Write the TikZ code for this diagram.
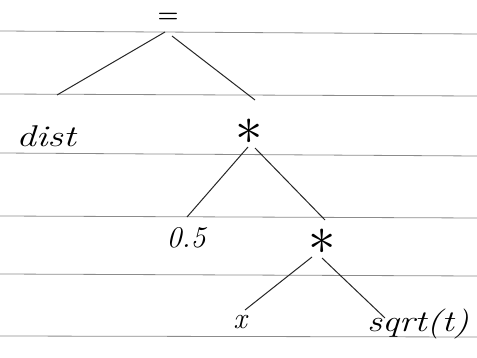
\documentclass[tikz,border=0pt]{standalone}
\begin{document}
\begin{tikzpicture}[x=1pt,y=-1pt,
  lbl/.style={inner sep=1pt,font=\fontsize{30}{34}\selectfont\itshape},
  op/.style={inner sep=0pt,scale=2.2,font=\fontsize{24}{24}\selectfont},
  edge/.style={line width=1pt,black!85},
  rule/.style={line width=0.8pt,black!45}]
\useasboundingbox (0,0) rectangle (477,358);
\fill[white] (0,0) rectangle (477,358);
% ruled paper lines
\draw[rule] (0,31) -- (477,34);
\draw[rule] (0,94) -- (477,96);
\draw[rule] (0,153) -- (477,156);
\draw[rule] (0,216) -- (477,218);
\draw[rule] (0,274) -- (477,276);
\draw[rule] (0,336) -- (477,337);
% nodes
\node[inner sep=0pt,font=\fontsize{24}{24}\selectfont\bfseries] (eq) at (168,18) {=};
\node[lbl,xscale=1.3] (dist) at (46,136) {dist};
\node[op] (m1) at (249,132) {$*$};
\node[lbl] (half) at (186,238) {0.5};
\node[op] (m2) at (322,242) {$*$};
\node[lbl] (x) at (240,322) {x};
\node[lbl,xscale=1.25] (sq) at (418,324) {sqrt(t)};
% connector ends
\coordinate (eqL) at (165,32);
\coordinate (eqR) at (172,36);
\coordinate (distT) at (57,95);
\coordinate (m1T) at (255,100);
\coordinate (m1L) at (248,147);
\coordinate (m1R) at (255,148);
\coordinate (halfT) at (187,217);
\coordinate (m2T) at (325,220);
\coordinate (m2L) at (312,257);
\coordinate (m2R) at (322,258);
\coordinate (xT) at (245,310);
\coordinate (sqT) at (385,318);
% edges
\draw[edge] (eqL) -- (distT);
\draw[edge] (eqR) -- (m1T);
\draw[edge] (m1L) -- (halfT);
\draw[edge] (m1R) -- (m2T);
\draw[edge] (m2L) -- (xT);
\draw[edge] (m2R) -- (sqT);
\end{tikzpicture}
\end{document}
